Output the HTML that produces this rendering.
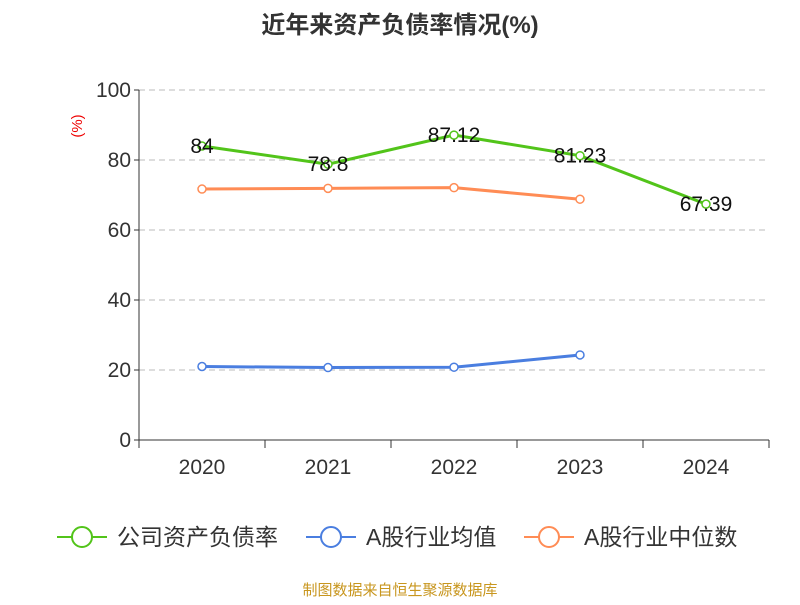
<!DOCTYPE html>
<html><head><meta charset="utf-8"><style>
body{margin:0;background:#fff;}
svg text{font-family:"Liberation Sans","Noto Sans CJK SC",sans-serif;}
</style></head><body>
<svg id="chart" width="800" height="600" xmlns="http://www.w3.org/2000/svg">
<text x="400" y="33" text-anchor="middle" font-size="24" font-weight="bold" fill="#333">近年来资产负债率情况(%)</text>
<text x="82" y="126" text-anchor="middle" font-size="15" fill="#e00" transform="rotate(-90 82 126)">(%)</text>
<g id="grid"></g><g id="axes"></g><g id="series"></g>
<g>
<g><line x1="57" y1="537" x2="107" y2="537" stroke="#52c41a" stroke-width="2"/><circle cx="82" cy="537" r="10" fill="#fff" stroke="#52c41a" stroke-width="2"/><text x="117" y="545" font-size="23" fill="#333">公司资产负债率</text></g>
<g><line x1="306" y1="537" x2="356" y2="537" stroke="#4a7ee0" stroke-width="2"/><circle cx="331" cy="537" r="10" fill="#fff" stroke="#4a7ee0" stroke-width="2"/><text x="366" y="545" font-size="23" fill="#333">A股行业均值</text></g>
<g><line x1="524" y1="537" x2="574" y2="537" stroke="#ff8c55" stroke-width="2"/><circle cx="549" cy="537" r="10" fill="#fff" stroke="#ff8c55" stroke-width="2"/><text x="584" y="545" font-size="23" fill="#333">A股行业中位数</text></g>
</g>
<text x="400" y="595" text-anchor="middle" font-size="15" fill="#c8961e">制图数据来自恒生聚源数据库</text>
</svg>
<script>
const categories=["2020","2021","2022","2023","2024"];
const companyValues=[84,78.8,87.12,81.23,67.39];
const companyLabels=["84","78.8","87.12","81.23","67.39"];
const avgValues=[21.0,20.7,20.8,24.3];
const medianValues=[71.7,71.9,72.1,68.8];
const yTicks=[0,20,40,60,80,100];
const NS="http://www.w3.org/2000/svg";
const x0=139,x1=769,yTop=90,yBot=440;
const bw=(x1-x0)/categories.length;
const xs=i=>x0+bw*(i+0.5);
const ys=v=>yBot-(v/100)*(yBot-yTop);
function mk(tag,attrs,parent){const e=document.createElementNS(NS,tag);for(const k in attrs)e.setAttribute(k,attrs[k]);parent.appendChild(e);return e;}
const grid=document.getElementById('grid'),axes=document.getElementById('axes'),ser=document.getElementById('series');
yTicks.forEach(t=>{
 if(t>0){const g=mk('line',{x1:x0,x2:x1,y1:ys(t),y2:ys(t),stroke:'#bbb','stroke-dasharray':'6,4'},grid);
 
 }
 const tk=mk('line',{x1:x0-5,x2:x0,y1:ys(t),y2:ys(t),stroke:'#333'},axes);
 
 
 const tx=mk('text',{x:x0-8,y:ys(t)+7,'text-anchor':'end','font-size':21,fill:'#333'},axes);tx.textContent=t;
 
 
});
const ya=mk('line',{x1:x0,x2:x0,y1:yTop,y2:yBot,stroke:'#333'},axes);


const xa=mk('line',{x1:x0,x2:x1,y1:yBot,y2:yBot,stroke:'#333'},axes);


for(let i=0;i<=categories.length;i++){const l=mk('line',{x1:x0+bw*i,x2:x0+bw*i,y1:yBot,y2:yBot+8,stroke:'#333'},axes);
 
 }
categories.forEach((c,i)=>{const t=mk('text',{x:xs(i),y:yBot+34,'text-anchor':'middle','font-size':21,fill:'#333'},axes);t.textContent=c;
 
 });
function series(vals,color,name){
 const p=mk('polyline',{points:vals.map((v,i)=>xs(i)+','+ys(v)).join(' '),fill:'none',stroke:color,'stroke-width':3},ser);
 
 
 vals.forEach((v,i)=>{const c=mk('circle',{cx:xs(i),cy:ys(v),r:4,fill:'#fff',stroke:color,'stroke-width':1.5},ser);
  
  });
}
series(medianValues,'#ff8c55','industry-median');
series(avgValues,'#4a7ee0','industry-average');
series(companyValues,'#52c41a','company');
companyValues.forEach((v,i)=>{const t=mk('text',{x:xs(i),y:ys(v)+7,'text-anchor':'middle','font-size':21,fill:'#111'},ser);t.textContent=companyLabels[i];
 
 });
</script>
</body></html>
